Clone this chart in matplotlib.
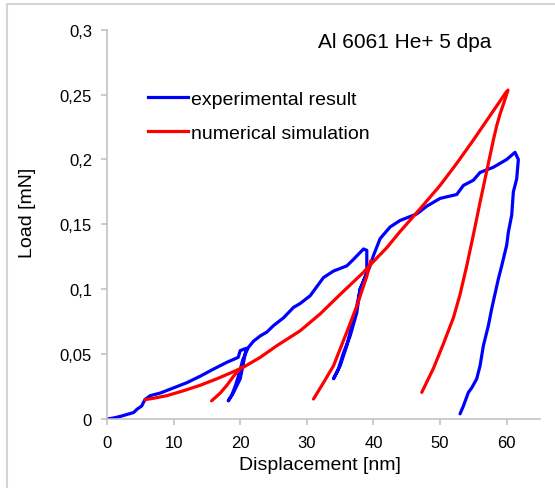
import matplotlib
matplotlib.use("Agg")
import matplotlib.pyplot as plt
from matplotlib.lines import Line2D
import numpy as np

plt.rcParams['font.family'] = ['Liberation Sans', 'DejaVu Sans']

# experimental curve (displacement nm, load mN), one continuous trace with unload/reload loops
exp_disp = [0, 1.0, 2.0, 3.0, 4.0, 4.5, 5.2, 5.7, 6.5, 8.0, 10.0, 12.0, 14.0, 16.0, 18.0, 19.7, 20.0, 20.9,
            20.4, 20.0, 19.0, 18.2,
            18.7, 19.3, 19.9, 20.4, 21.2,
            22.0, 23.0, 24.0, 25.0, 26.5, 28.0, 29.0, 30.5, 32.5, 34.0, 36.0, 37.0, 38.5, 39.0,
            39.0, 38.0, 37.5, 36.5, 36.0, 35.0, 34.0,
            34.7, 35.5, 36.5, 37.5, 38.0, 39.5, 40.0,
            41.0, 42.5, 44.0, 46.5, 48.0, 50.0, 52.5, 53.5, 55.0, 56.0, 58.0, 60.0, 61.25,
            61.75, 61.5, 61.0, 60.75, 60.25, 60.0, 59.25, 58.75, 57.75, 57.25, 56.5, 56.0, 55.5, 54.75, 54.25, 53.5, 53.0]
exp_load = [0, 0.0008, 0.002, 0.0035, 0.005, 0.0075, 0.010, 0.015, 0.018, 0.020, 0.024, 0.028, 0.033, 0.0385, 0.0437, 0.0475, 0.0527, 0.0545,
            0.041, 0.031, 0.0205, 0.014,
            0.018, 0.026, 0.036, 0.046, 0.055,
            0.060, 0.064, 0.067, 0.072, 0.078, 0.086, 0.089, 0.095, 0.109, 0.114, 0.118, 0.123, 0.131, 0.130,
            0.113, 0.100, 0.087, 0.067, 0.0565, 0.041, 0.031,
            0.038, 0.051, 0.064, 0.082, 0.100, 0.118, 0.126,
            0.139, 0.148, 0.153, 0.158, 0.164, 0.170, 0.173, 0.180, 0.184, 0.190, 0.194, 0.200, 0.2055,
            0.200, 0.185, 0.175, 0.157, 0.144, 0.134, 0.118, 0.108, 0.085, 0.072, 0.0565, 0.041, 0.031, 0.024, 0.0205, 0.010, 0.004]

# numerical simulation: loading branch + three unloading branches
sim_load_disp = [5.7, 7.0, 9.0, 11.5, 14.0, 16.5, 19.0, 20.5, 23.0, 25.5, 29.0, 32.0, 35.0, 38.5, 39.75,
                 42.0, 44.0, 47.0, 50.0, 52.5, 55.0, 56.0, 58.0, 60.0]
sim_load_load = [0.0149, 0.016, 0.018, 0.0218, 0.026, 0.031, 0.0365, 0.040, 0.0475, 0.0565, 0.068, 0.081, 0.096, 0.113, 0.120,
                 0.132, 0.1445, 0.162, 0.180, 0.197, 0.215, 0.2225, 0.2375, 0.2525]
sim_un1_disp = [20.2, 19.0, 18.0, 17.0, 15.7]
sim_un1_load = [0.040, 0.033, 0.026, 0.020, 0.014]
sim_un2_disp = [39.6, 39.0, 37.5, 36.0, 34.0, 32.5, 31.0]
sim_un2_load = [0.122, 0.110, 0.087, 0.067, 0.041, 0.028, 0.0154]
sim_un3_disp = [60.2, 59.6, 59.0, 58.5, 58.0, 57.0, 56.0, 55.0, 54.0, 53.0, 52.0, 50.5, 49.0, 47.25]
sim_un3_load = [0.2535, 0.244, 0.235, 0.226, 0.215, 0.191, 0.167, 0.142, 0.118, 0.096, 0.078, 0.058, 0.039, 0.0205]

x_ticks = [0, 10, 20, 30, 40, 50, 60]
y_ticks = [0, 0.05, 0.1, 0.15, 0.2, 0.25, 0.3]
y_tick_labels = ['0', '0,05', '0,1', '0,15', '0,2', '0,25', '0,3']

W, H = 555, 489
fig = plt.figure(figsize=(W / 100, H / 100), dpi=100)
ax = fig.add_axes([107 / W, 1 - 420 / H, 433 / W, (420 - 30.7) / H])

blue = '#0000ff'
red = '#ff0000'
lw = 2.3
ax.plot(exp_disp, exp_load, color=blue, lw=lw, solid_joinstyle='round', solid_capstyle='round')
for xs, ys in [(sim_load_disp, sim_load_load), (sim_un1_disp, sim_un1_load),
               (sim_un2_disp, sim_un2_load), (sim_un3_disp, sim_un3_load)]:
    ax.plot(xs, ys, color=red, lw=lw, solid_capstyle='round')

ax.set_xlim(0, 65)
ax.set_ylim(0, 0.3)
ax.set_xticks(x_ticks)
ax.set_yticks(y_ticks)
ax.set_yticklabels(y_tick_labels)
for s in ['top', 'right']:
    ax.spines[s].set_visible(False)
for s in ['left', 'bottom']:
    ax.spines[s].set_color('#bfbfbf')
    ax.spines[s].set_linewidth(1.1)
ax.tick_params(axis='both', colors='#bfbfbf', labelcolor='black', labelsize=12, width=1.1, length=4.3, direction='out')
ax.tick_params(axis='y', pad=6.5)
ax.tick_params(axis='x', pad=7)

handles = [Line2D([], [], color=blue, lw=lw), Line2D([], [], color=red, lw=lw)]
ax.legend(handles, ['experimental result', 'numerical simulation'], loc='upper left',
          bbox_to_anchor=(148 / W, 1 - 91 / H), bbox_transform=fig.transFigure,
          frameon=False, fontsize=14, handlelength=2.05, handletextpad=0.15,
          labelspacing=0.85, borderpad=0, borderaxespad=0)

fig.text(318 / W, 1 - 43 / H, 'Al 6061 He+ 5 dpa', fontsize=15, va='center', ha='left')
fig.text(28 / W, 1 - 213 / H, 'Load [mN]', fontsize=14, rotation=90, va='center', ha='center')
fig.text(320 / W, 1 - 466 / H, 'Displacement [nm]', fontsize=14, va='center', ha='center')

# outer chart-area border
fig.add_artist(Line2D([7 / W, 7 / W, 1], [0, 1 - 5 / H, 1 - 5 / H], transform=fig.transFigure,
                      color='#d4d4d4', lw=1.5))

fig.savefig('out.png', dpi=100)
